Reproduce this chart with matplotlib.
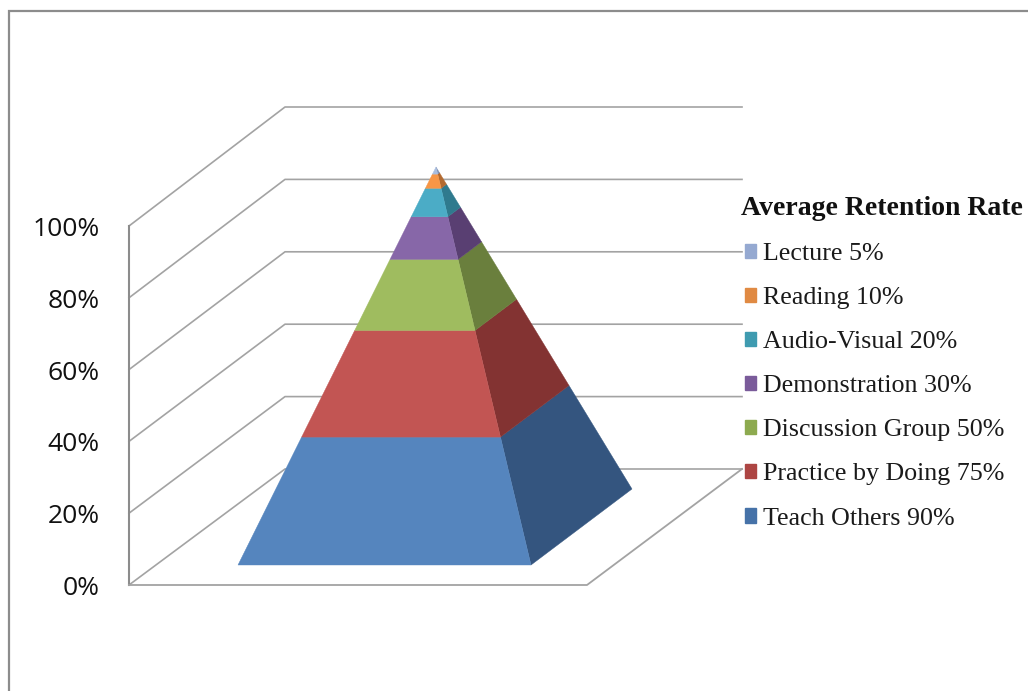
import matplotlib
matplotlib.use('Agg')
import matplotlib.pyplot as plt
import numpy as np
from matplotlib.patches import Polygon, Rectangle

# bottom to top of the stack
methods = ['Teach Others', 'Practice by Doing', 'Discussion Group', 'Demonstration',
           'Audio-Visual', 'Reading', 'Lecture']
retention = [90, 75, 50, 30, 20, 10, 5]
axis_ticks = [0, 20, 40, 60, 80, 100]
legend_title = 'Average Retention Rate'

front_colors = ['#5585BE', '#C25553', '#9FBC5F', '#8767A8', '#4BACC6', '#F79646', '#A9BEE0']
side_colors = ['#34557F', '#833332', '#6A7F3D', '#593F72', '#2F7A8E', '#B36A30', '#7F8FB0']
legend_colors = ['#4672A8', '#AD4543', '#8DAA4F', '#7A5B9A', '#3F9BB0', '#E08A43', '#95A9D1']

GRID = '#A3A3A3'
FRAME = '#8C8C8C'

# picture geometry in pixels
front_bottom, front_top = 585, 226
back_bottom, back_top = 469, 107
left_x, back_x, floor_right, back_right = 129, 285, 587, 742
base_left, base_right, base_back = (238, 565), (531, 565), (632, 489)
apex = (436, 167)


def front_y(pct):
    return front_bottom + (front_top - front_bottom) * pct / 100


def back_y(pct):
    return back_bottom + (back_top - back_bottom) * pct / 100


def edge(corner, t):
    return (corner[0] + (apex[0] - corner[0]) * t, corner[1] + (apex[1] - corner[1]) * t)


fig = plt.figure(figsize=(10.28, 6.91), dpi=100)
ax = fig.add_axes([0, 0, 1, 1])
ax.set_xlim(0, 1028)
ax.set_ylim(691, 0)
ax.axis('off')

# outer chart border, cut by the picture edge
ax.plot([9, 9, 1028], [691, 11, 11], color=FRAME, lw=1.6, solid_joinstyle='miter')

# walls
for pct in axis_ticks:
    ax.plot([left_x, back_x, back_right], [front_y(pct), back_y(pct), back_y(pct)],
            color=GRID, lw=1.2, zorder=1)
    ax.text(99.5, front_y(pct) + 3.5, f'{pct}%', ha='right', va='center',
            fontsize=19, family='Open Sans', color='#111111')
ax.plot([left_x, left_x], [front_y(100), front_y(0)], color=FRAME, lw=1.5, zorder=1)
ax.plot([left_x, floor_right, back_right], [front_y(0), front_y(0), back_y(0)],
        color=GRID, lw=1.3, zorder=1)

# stacked pyramid, each band's height is its share of the total
fractions = np.cumsum([0] + retention) / sum(retention)
for i in range(len(retention)):
    t0, t1 = fractions[i], fractions[i + 1]
    front = [edge(base_left, t0), edge(base_right, t0), edge(base_right, t1), edge(base_left, t1)]
    side = [edge(base_right, t0), edge(base_back, t0), edge(base_back, t1), edge(base_right, t1)]
    ax.add_patch(Polygon(side, closed=True, fc=side_colors[i], ec=side_colors[i], lw=0.3, zorder=3))
    ax.add_patch(Polygon(front, closed=True, fc=front_colors[i], ec=front_colors[i], lw=0.3, zorder=3))

# legend, top of the stack first
handles = [Rectangle((0, 0), 1, 1, color=c) for c in legend_colors[::-1]]
labels = [f'{m} {v}%' for m, v in zip(methods[::-1], retention[::-1])]
leg = ax.legend(handles, labels, title=legend_title, frameon=False, loc='upper left',
                bbox_to_anchor=(745 / 1028, 1 - 196 / 691), borderaxespad=0, borderpad=0,
                prop={'family': 'Liberation Serif', 'size': 18.7},
                title_fontproperties={'family': 'Liberation Serif', 'weight': 'bold', 'size': 20},
                alignment='left', labelspacing=0.85, handlelength=0.42, handleheight=0.48,
                handletextpad=0.28)
leg.get_title().set_color('#111111')
leg.get_title().set_position((-4, 0))
for t in leg.get_texts():
    t.set_color('#1A1A1A')

fig.savefig('out.png', dpi=100)
